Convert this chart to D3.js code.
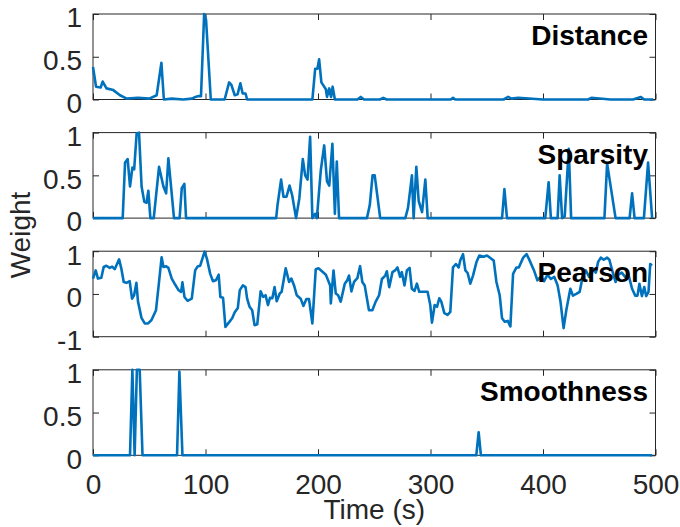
<!DOCTYPE html>
<html>
<head>
<meta charset="utf-8">
<script src="https://cdn.jsdelivr.net/npm/d3@7"></script>
<style>
body { margin: 0; background: #fff; }
text { font-family: "Liberation Sans", Arial, sans-serif; }
</style>
</head>
<body>
<svg id="main" width="680" height="527"></svg>
<script>
// weights, [time (s), weight]
var distance = [[0,0.38],[2.7,0.15],[6.8,0.14],[8.6,0.21],[12,0.13],[18,0.11],[24,0.05],[30,0.01],[40,0.02],[50,0.01],
  [56.6,0.05],[60.8,0.43],[63,0],[70,0.01],[80,0],[88,0.01],[91,0.03],[94,0.04],[96,0.04],[98.8,1.0],[100.5,0.93],
  [104.7,0],[110,0],[117,0],[121,0.2],[123,0.17],[126,0.05],[128.5,0.06],[131,0.19],[133,0.07],[135.6,0.07],[137,0],
  [150,0],[170,0],[195,0],[197.5,0.36],[199.5,0.36],[201,0.47],[203,0.2],[207,0.12],[208,0.03],[210,0.13],[211.6,0.03],
  [213,0.15],[215,0],[225,0],[235,0],[238,0.03],[241,0],[255,0],[258,0.02],[261,0],[280,0],[300,0],[318,0],[320,0.02],
  [322,0],[340,0],[365,0],[369,0.03],[372,0.01],[378,0.02],[400,0],[430,0],[440,0],[443,0.02],[460,0],[480,0],
  [487,0.03],[490,0],[498,0]];

var sparsity = [[0,0],[26.4,0],[28.5,0.65],[30.8,0.69],[32.9,0.37],[35,0.59],[36.6,0.57],[38.8,0.99],[40.9,1.0],
  [43.2,0.37],[45.6,0.19],[47.6,0.18],[49.2,0.32],[51,0],[54,0],[58.7,0.6],[62.6,0.37],[65,0.29],[67,0.7],[69,0.42],
  [72,0],[77,0],[78.9,0.35],[81.2,0.4],[82.7,0],[162.8,0],[164,0.15],[167.2,0.45],[169.3,0.25],[172,0.25],[174.7,0.38],
  [177,0.27],[180.5,0],[183.4,0.23],[186.5,0.69],[188.6,0.5],[190.7,0.45],[193,0.95],[195,0],[197.5,0.05],[199,0],
  [202.5,0.56],[205.5,0.85],[208,0.43],[210,0.38],[212.8,0.87],[215,0.05],[216.7,0.66],[218.7,0],[243.5,0],[246,0.15],
  [248.5,0.5],[250.4,0.5],[255.3,0],[277.6,0],[280,0.12],[283.5,0.5],[285,0],[287.4,0.6],[289.5,0.2],[292.5,0.07],
  [295.4,0.45],[297.5,0],[363.6,0],[365.7,0.34],[368,0],[402,0],[405,0.42],[407,0],[413,0],[414.8,0.5],[417,0],
  [419.3,0.02],[422.9,0.81],[425,0],[454.6,0],[457,0.64],[464.5,0],[477,0],[479.2,0.29],[481.4,0],[489.7,0],
  [493.4,0.65],[497,0]];

var pearson = [[0,0.36],[2.4,0.55],[4.4,0.36],[7.4,0.38],[9.5,0.63],[11.9,0.66],[14.9,0.61],[17,0.64],[19.3,0.58],
  [23.2,0.81],[25.3,0.58],[27.3,0.28],[29.7,0.26],[32.6,0.3],[34.7,-0.11],[36.5,-0.03],[38.6,0.26],[40,-0.18],
  [43.1,-0.56],[46,-0.69],[49,-0.69],[52,-0.61],[56,-0.38],[58.7,0.28],[61,0.86],[62.6,0.63],[65,0.65],[67,0.61],
  [70,0.36],[73,0.22],[76,0.09],[78.3,0.05],[79.5,0.27],[81.3,-0.07],[84,-0.16],[87.8,-0.11],[90.8,0.55],[92.9,0.64],
  [95.3,0.66],[99.2,0.99],[101.3,0.82],[104.2,0.47],[106.6,0.3],[109.3,0.32],[111.7,0.45],[113.2,-0.07],[115.6,-0.09],
  [117.7,-0.77],[120.7,-0.67],[123.7,-0.57],[126,-0.43],[128.7,-0.33],[130.5,0.09],[133.2,0.2],[135.6,0.16],
  [137,-0.11],[139.2,-0.3],[141.5,-0.38],[143.6,-0.73],[146,-0.71],[149,0.06],[151.3,-0.07],[153.4,-0.03],
  [155.5,-0.26],[157.3,-0.09],[159.4,-0.1],[161.4,0.16],[163.3,-0.17],[166,0.01],[167.7,0.05],[171.3,0.6],[174.3,0.28],
  [176.3,0.36],[178.7,0.2],[181.1,-0.03],[184.6,-0.11],[187,-0.28],[189.7,-0.12],[192,-0.12],[195,-0.69],[198,0.58],
  [200.4,0.6],[204,0.52],[207,0.45],[210.8,0.2],[211.4,-0.22],[213.8,0.55],[215.8,0.01],[217.9,-0.03],[220.2,-0.18],
  [223.8,0.24],[226,0.32],[227.6,0.43],[229.7,0.06],[232,0.28],[235,0.37],[237.4,0.65],[239.4,0.28],[241.5,0.2],
  [245.3,-0.38],[248.3,-0.38],[251.3,-0.18],[254.3,-0.03],[256.8,0.35],[259.8,0.43],[261.2,0.53],[263.3,0.16],
  [266.2,0.51],[268.5,0.55],[270.6,0.62],[273,0.4],[274.5,0.51],[276.9,0.2],[279,0.55],[281.4,0.61],[283.4,0.12],
  [285.8,0.07],[287.9,0.24],[290,0.05],[293.8,0.05],[297.4,0.05],[299.8,-0.26],[301.3,-0.67],[303.7,-0.26],
  [305.8,-0.3],[307.8,-0.1],[309.6,-0.18],[312.3,-0.45],[315.2,-0.49],[317.6,-0.42],[320,0.62],[322.6,0.7],[325,0.62],
  [326.5,0.79],[328.9,0.93],[331,0.55],[333,0.49],[335.4,0.24],[337.8,0.43],[340.8,0.74],[343.4,0.9],[347.3,0.87],
  [350.2,0.9],[353.2,0.84],[356.2,0.78],[358.6,0.28],[361.5,-0.03],[363.6,-0.57],[366,-0.65],[368.7,-0.63],
  [371,-0.76],[373.4,0.47],[376.4,0.62],[378.5,0.62],[382.4,0.85],[385.4,0.93],[387.5,0.82],[392,0.55],[395,0.32],
  [398,0.4],[401,0.3],[404,0.45],[407,0.35],[410,0.4],[413,0.2],[415.6,-0.19],[418.3,-0.8],[420.7,-0.38],
  [424.3,0.12],[426.6,-0.04],[429.6,0.0],[432.6,0.05],[435.5,0.43],[438,0.55],[441,0.4],[444,0.6],[447,0.5],
  [449,0.75],[451.4,0.85],[454,0.8],[457,0.85],[459,0.8],[461.5,0.55],[464.5,0.28],[467,0.45],[470,0.5],[473,0.4],
  [476,0.45],[479.2,0.12],[482,-0.04],[484,-0.04],[485.7,0.24],[487.9,-0.05],[490,0.16],[491.7,-0.05],[493.8,0.05],
  [495.3,0.7],[496.8,0.66]];

var smoothness = [[0,0],[32.9,0],[35,1],[37,0],[39,1],[41.5,1],[44,0],[74.7,0],[76.8,0.98],[79.5,0],
  [340.7,0],[342.8,0.27],[344.8,0],[497,0]];

var names = ["Distance", "Sparsity", "Pearson", "Smoothness"];
var series = [distance, sparsity, pearson, smoothness];
var yDomains = [[0, 1], [0, 1], [-1, 1], [0, 1]];
var yTicks = [[0, 0.5, 1], [0, 0.5, 1], [-1, 0, 1], [0, 0.5, 1]];
var xTicks = [0, 100, 200, 300, 400, 500];

var left = 93, right = 655.5;
var top0 = 14, pitch = 118.6, h = 85.5;
var axisColor = "#262626";

var svg = d3.select("#main");
var x = d3.scaleLinear().domain([0, 500]).range([left, right]);

for (var i = 0; i < 4; i++) {
  drawPanel(i);
}

function drawPanel(i)
{
  var top = top0 + i * pitch;
  var bottom = top + h;
  var y = d3.scaleLinear().domain(yDomains[i]).range([bottom, top]);
  var g = svg.append("g");

  // bottom ticks, labels only under the last panel
  g.append("g").attr("transform", "translate(0," + bottom + ")")
    .call(d3.axisBottom(x).tickValues(xTicks).tickSizeInner(-6).tickSizeOuter(0).tickPadding(19)
      .tickFormat(i == 3 ? String : function() { return ""; }));
  g.append("g").attr("transform", "translate(0," + top + ")")
    .call(d3.axisTop(x).tickValues(xTicks).tickSizeInner(-6).tickSizeOuter(0).tickFormat(""));

  // plain String so "-1" keeps a hyphen like the original
  var yl = g.append("g").attr("transform", "translate(" + left + ",0)")
    .call(d3.axisLeft(y).tickValues(yTicks[i]).tickSizeInner(-6).tickSizeOuter(0).tickPadding(11)
      .tickFormat(String));
  g.append("g").attr("transform", "translate(" + right + ",0)")
    .call(d3.axisRight(y).tickValues(yTicks[i]).tickSizeInner(-6).tickSizeOuter(0).tickFormat(""));

  g.selectAll(".domain").remove();
  g.selectAll(".tick line").attr("stroke", axisColor);
  g.selectAll(".tick text").attr("fill", axisColor).attr("font-size", "28px")
    .attr("font-family", "Liberation Sans, Arial, sans-serif");
  yl.selectAll(".tick text").attr("dy", "0.46em");

  g.append("rect")
    .attr("x", left).attr("y", top)
    .attr("width", right - left).attr("height", h)
    .attr("fill", "none").attr("stroke", axisColor).attr("stroke-width", 1);

  var line = d3.line().x(function(d) { return x(d[0]); }).y(function(d) { return y(d[1]); });
  g.append("path")
    .attr("d", line(series[i]))
    .attr("fill", "none")
    .attr("stroke", "#0072BD")
    .attr("stroke-width", 2.6)
    .attr("stroke-linejoin", "round");

  g.append("text")
    .text(names[i])
    .attr("x", 648)
    .attr("y", top + 31)
    .attr("text-anchor", "end")
    .attr("font-size", "28px")
    .attr("font-weight", "bold")
    .attr("fill", "#000");
}

svg.append("text")
  .text("Weight")
  .attr("transform", "translate(30,235) rotate(-90)")
  .attr("text-anchor", "middle")
  .attr("font-size", "28px")
  .attr("fill", axisColor);

svg.append("text")
  .text("Time (s)")
  .attr("x", (left + right) / 2)
  .attr("y", 519)
  .attr("text-anchor", "middle")
  .attr("font-size", "28px")
  .attr("fill", axisColor);
</script>
</body>
</html>
